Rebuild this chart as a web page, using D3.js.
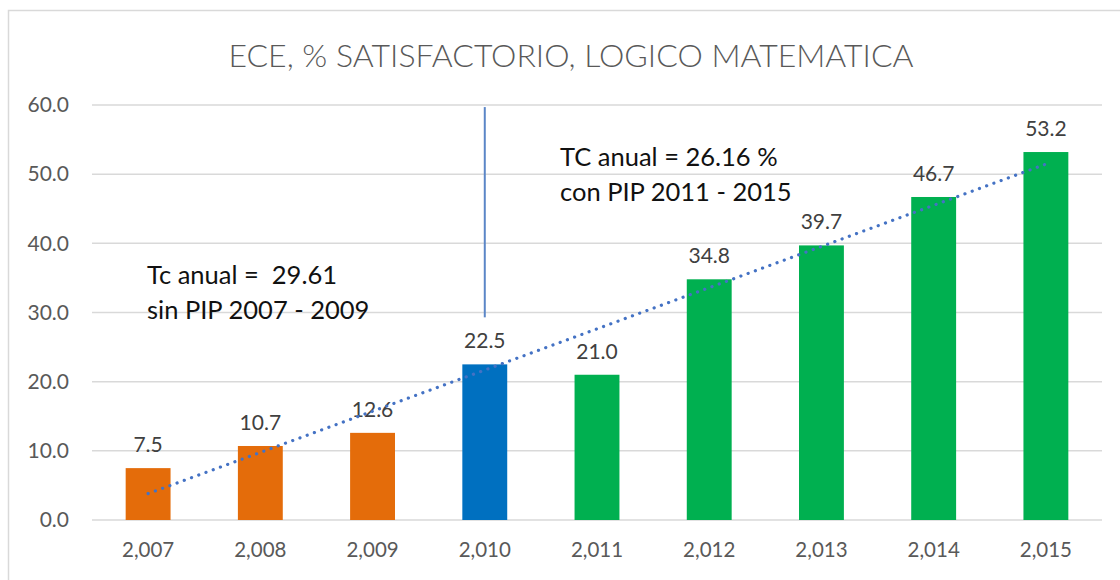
<!DOCTYPE html>
<html>
<head>
<meta charset="utf-8">
<script src="https://cdn.jsdelivr.net/npm/d3@7"></script>
<style>
  body { margin: 0; background: #fff; }
  svg { display: block; font-family: Lato, "Open Sans", sans-serif; }
</style>
</head>
<body>
<div class="chartWrap"></div>
<script>
var width = 1120,
  height = 580,
  margin = {top: 105, right: 18, bottom: 60, left: 92};

var years = ['2,007', '2,008', '2,009', '2,010', '2,011', '2,012', '2,013', '2,014', '2,015'];
var values = [7.5, 10.7, 12.6, 22.5, 21.0, 34.8, 39.7, 46.7, 53.2];
var groups = ['sin', 'sin', 'sin', 'base', 'con', 'con', 'con', 'con', 'con'];
var yTicks = [0, 10, 20, 30, 40, 50, 60];
var notes = [
  ['Tc anual =  29.61', 'sin PIP 2007 - 2009'],
  ['TC anual = 26.16 %', 'con PIP 2011 - 2015']
];

var groupColors = {'sin': '#E46C0A', 'base': '#0070C0', 'con': '#00B050'};

var svg = d3.select('.chartWrap')
  .append('svg')
  .attr('width', width)
  .attr('height', height);

// chart frame (runs off the right / bottom edge like the screenshot)
svg.append('rect')
  .attr('x', 8.5).attr('y', 10.5)
  .attr('width', width + 20).attr('height', height + 20)
  .style('fill', 'none').style('stroke', '#D9D9D9').style('stroke-width', 1.5);

var x = d3.scaleBand()
  .domain(years)
  .range([margin.left, width - margin.right])
  .paddingInner(0.6)
  .paddingOuter(0.3);

var y = d3.scaleLinear()
  .domain([0, 60])
  .range([height - margin.bottom, margin.top]);

var cx = function(d){ return x(d) + x.bandwidth() / 2; };

// title
svg.append('text')
  .attr('x', 571).attr('y', 67)
  .attr('text-anchor', 'middle')
  .style('font-size', '32px').style('fill', '#595959').style('font-weight', 300)
  .text('ECE, % SATISFACTORIO, LOGICO MATEMATICA');

// gridlines
svg.selectAll('.grid')
  .data(yTicks)
  .enter()
    .append('line')
    .attr('class', 'grid')
    .attr('x1', margin.left).attr('x2', width - margin.right)
    .attr('y1', function(d){ return y(d); })
    .attr('y2', function(d){ return y(d); })
    .style('stroke', '#D9D9D9').style('stroke-width', 1.5);

// y axis labels
var yAxis = d3.axisLeft(y).tickValues(yTicks).tickFormat(d3.format('.1f')).tickSize(0).tickPadding(23);
svg.append('g')
  .attr('transform', 'translate(' + margin.left + ',0)')
  .call(yAxis)
  .call(function(g){ g.select('.domain').remove(); })
  .selectAll('text')
    .style('font-size', '21px').style('fill', '#595959').style('font-family', 'Lato, sans-serif');

// x axis labels
var xAxis = d3.axisBottom(x).tickSize(0).tickPadding(22);
svg.append('g')
  .attr('transform', 'translate(0,' + y(0) + ')')
  .call(xAxis)
  .call(function(g){ g.select('.domain').remove(); })
  .selectAll('text')
    .style('font-size', '20.5px').style('fill', '#595959').style('font-family', 'Lato, sans-serif');

// bars
svg.selectAll('.bar')
  .data(values)
  .enter()
    .append('rect')
    .attr('class', 'bar')
    .attr('x', function(d, i){ return x(years[i]); })
    .attr('width', x.bandwidth())
    .attr('y', function(d){ return y(d); })
    .attr('height', function(d){ return y(0) - y(d); })
    .style('fill', function(d, i){ return groupColors[groups[i]]; });

// value labels
svg.selectAll('.valLabel')
  .data(values)
  .enter()
    .append('text')
    .attr('class', 'valLabel')
    .attr('x', function(d, i){ return cx(years[i]); })
    .attr('y', function(d){ return y(d) - 16; })
    .attr('text-anchor', 'middle')
    .style('font-size', '21px').style('fill', '#404040')
    .text(function(d){ return d.toFixed(1); });

// linear trend over all years
var n = values.length,
  mx = d3.mean(values, function(d, i){ return i; }),
  my = d3.mean(values),
  sxy = d3.sum(values, function(d, i){ return (i - mx) * (d - my); }),
  sxx = d3.sum(values, function(d, i){ return (i - mx) * (i - mx); }),
  slope = sxy / sxx,
  icpt = my - slope * mx;

var trend = d3.line()
  .x(function(d){ return cx(years[d]); })
  .y(function(d){ return y(icpt + slope * d); });

svg.append('path')
  .datum([0, n - 1])
  .attr('d', trend)
  .style('fill', 'none').style('stroke', '#4472C4')
  .style('stroke-width', 3.2).style('stroke-linecap', 'round')
  .style('stroke-dasharray', '0.1 7.6');

// divider at 2010
svg.append('line')
  .attr('x1', cx(years[3])).attr('x2', cx(years[3]))
  .attr('y1', y(59.7)).attr('y2', y(29.3))
  .style('stroke', '#5B86C7').style('stroke-width', 2);

// annotations
var notePos = [[147, 284], [560, 166]];
notes.forEach(function(lines, k){
  var t = svg.append('text')
    .attr('x', notePos[k][0]).attr('y', notePos[k][1])
    .style('font-size', '25.5px').style('fill', '#111').style('white-space', 'pre');
  lines.forEach(function(s, j){
    t.append('tspan').attr('x', notePos[k][0]).attr('dy', j ? 35 : 0).text(s);
  });
});
</script>
</body>
</html>
